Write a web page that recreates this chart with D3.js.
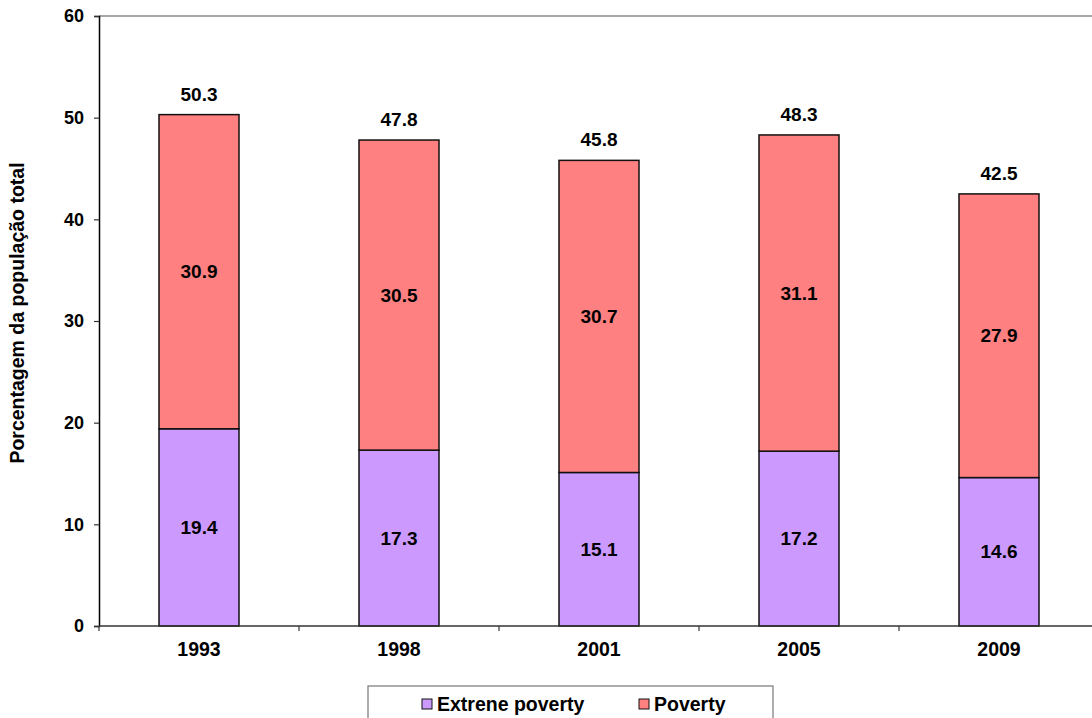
<!DOCTYPE html>
<html>
<head>
<meta charset="utf-8">
<script src="https://cdn.jsdelivr.net/npm/d3@7"></script>
<style>
  html, body { margin: 0; padding: 0; background: #fff; }
  svg { display: block; font-family: "Liberation Sans", Arial, sans-serif; font-weight: bold; }
</style>
</head>
<body>
<svg id="chart" width="1092" height="718"></svg>
<script>
// Population in poverty, percent of total population
const years = ["1993", "1998", "2001", "2005", "2009"];
const extremePoverty = [19.4, 17.3, 15.1, 17.2, 14.6];
const poverty = [30.9, 30.5, 30.7, 31.1, 27.9];
const totals = [50.3, 47.8, 45.8, 48.3, 42.5];
const yTicks = [0, 10, 20, 30, 40, 50, 60];
const seriesNames = ["Extrene poverty", "Poverty"];
const seriesColors = ["#CC99FF", "#FF8080"];

const svg = d3.select("#chart");
const margin = { left: 99, top: 16, right: -7, bottom: 92 };
const width = 1092 - margin.left - margin.right;
const height = 718 - margin.top - margin.bottom;

const g = svg.append("g").attr("transform", `translate(${margin.left},${margin.top})`);

const x = d3.scaleBand().domain(years).range([0, width]).paddingInner(0.6).paddingOuter(0.3);
const xCat = d3.scaleBand().domain(years).range([0, width]);
const y = d3.scaleLinear().domain([0, 60]).range([height, 0]);

const rows = years.map((yr, i) => ({ year: yr, ext: extremePoverty[i], pov: poverty[i], total: totals[i] }));
const stack = d3.stack().keys(["ext", "pov"]);
const layers = stack(rows);

// top border of plot area
g.append("line")
  .attr("x1", 0).attr("x2", width)
  .attr("y1", y(60)).attr("y2", y(60))
  .attr("stroke", "#888").attr("stroke-width", 1.5);

// stacked bars
layers.forEach((layer, li) => {
  g.append("g").selectAll("rect")
    .data(layer)
    .join("rect")
    .attr("x", d => x(d.data.year))
    .attr("width", x.bandwidth())
    .attr("y", d => y(d[1]))
    .attr("height", d => y(d[0]) - y(d[1]))
    .attr("fill", seriesColors[li])
    .attr("stroke", "#111")
    .attr("stroke-width", 1.5);

  // values inside segments
  g.append("g").selectAll("text")
    .data(layer)
    .join("text")
    .attr("x", d => x(d.data.year) + x.bandwidth() / 2)
    .attr("y", d => (y(d[0]) + y(d[1])) / 2)
    .attr("dy", "0.35em")
    .attr("text-anchor", "middle")
    .attr("font-size", 19)
    .attr("fill", "#000")
    .text(d => (d[1] - d[0]).toFixed(1));
});

// totals above bars
g.append("g").selectAll("text")
  .data(rows)
  .join("text")
  .attr("x", d => x(d.year) + x.bandwidth() / 2)
  .attr("y", d => y(d.total) - 14)
  .attr("text-anchor", "middle")
  .attr("font-size", 19)
  .attr("fill", "#000")
  .text(d => d.total.toFixed(1));

// y axis
const yAxis = g.append("g")
  .call(d3.axisLeft(y).tickValues(yTicks).tickSize(5).tickPadding(10).tickFormat(d3.format("d")));
yAxis.select(".domain").attr("stroke", "#000").attr("stroke-width", 1.5);
yAxis.selectAll(".tick line").attr("stroke", "#333").attr("stroke-width", 1.2);
yAxis.selectAll(".tick text").attr("font-size", 18).attr("font-family", "Liberation Sans, Arial, sans-serif").attr("font-weight", "bold").attr("fill", "#000");

// x axis with ticks on category boundaries
const xAxisG = g.append("g").attr("transform", `translate(0,${height})`);
xAxisG.append("line")
  .attr("x1", 0).attr("x2", width)
  .attr("stroke", "#333").attr("stroke-width", 1.5);
xAxisG.selectAll("line.sep")
  .data(years)
  .join("line")
  .attr("class", "sep")
  .attr("x1", d => xCat(d)).attr("x2", d => xCat(d))
  .attr("y1", 0).attr("y2", 5)
  .attr("stroke", "#333").attr("stroke-width", 1.2);
xAxisG.selectAll("text")
  .data(years)
  .join("text")
  .attr("x", d => xCat(d) + xCat.bandwidth() / 2)
  .attr("y", 30)
  .attr("text-anchor", "middle")
  .attr("font-size", 19.5)
  .attr("fill", "#000")
  .text(d => d);

// y axis title
svg.append("text")
  .attr("transform", `translate(24,${313}) rotate(-90)`)
  .attr("text-anchor", "middle")
  .attr("font-size", 19.5)
  .attr("fill", "#000")
  .text("Porcentagem da população total");

// legend
const legend = svg.append("g");
legend.append("rect")
  .attr("x", 368).attr("y", 686)
  .attr("width", 405).attr("height", 40)
  .attr("fill", "#fff").attr("stroke", "#777").attr("stroke-width", 1.2);
const legendX = [422, 639];
seriesNames.forEach((name, i) => {
  legend.append("rect")
    .attr("x", legendX[i]).attr("y", 699)
    .attr("width", 10).attr("height", 10)
    .attr("fill", seriesColors[i]).attr("stroke", "#111").attr("stroke-width", 1);
  legend.append("text")
    .attr("x", legendX[i] + 15).attr("y", 711)
    .attr("font-size", 19.5)
    .attr("fill", "#000")
    .text(name);
});
</script>
</body>
</html>
